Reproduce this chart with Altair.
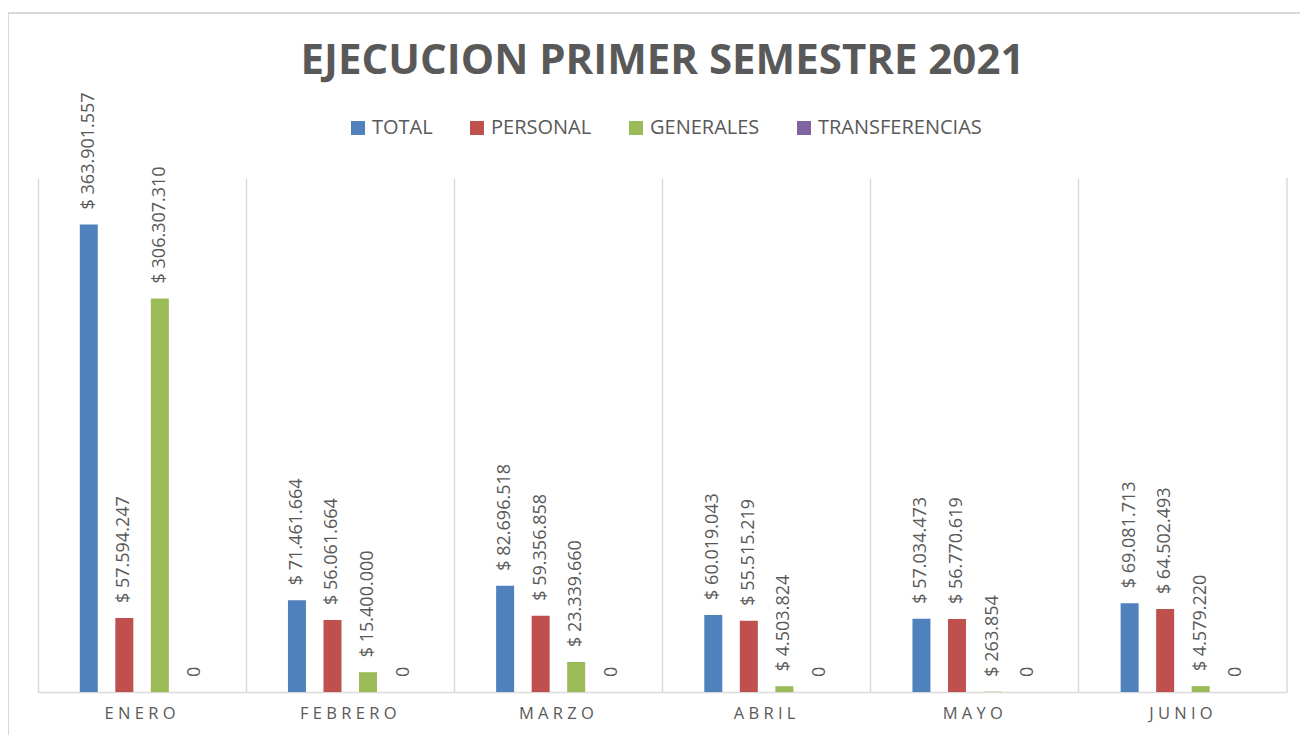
import altair as alt
import pandas as pd

months = ["ENERO", "FEBRERO", "MARZO", "ABRIL", "MAYO", "JUNIO"]
series = ["TOTAL", "PERSONAL", "GENERALES", "TRANSFERENCIAS"]
colors = ["#4F81BD", "#C0504D", "#9BBB59", "#8064A2"]
title_text = ["EJECUCION PRIMER SEMESTRE 2021"]

total = [363901557, 71461664, 82696518, 60019043, 57034473, 69081713]
personal = [57594247, 56061664, 59356858, 55515219, 56770619, 64502493]
generales = [306307310, 15400000, 23339660, 4503824, 263854, 4579220]
transferencias = [0, 0, 0, 0, 0, 0]


def fmt(v):
    if v == 0:
        return "0"
    return "$ " + f"{v:,}".replace(",", ".")


rows = []
for s, vals in zip(series, [total, personal, generales, transferencias]):
    for m, v in zip(months, vals):
        rows.append({"mes": m, "serie": s, "valor": v, "etiqueta": fmt(v)})
df = pd.DataFrame(rows)

W, H = 1249, 514
GRAY = "#595959"
LINE = "#D9D9D9"
FONT = "Open Sans"

base = alt.Chart(df).encode(
    x=alt.X(
        "mes:N",
        sort=months,
        scale=alt.Scale(paddingInner=0, paddingOuter=0),
        axis=alt.Axis(
            title=None,
            labelAngle=0,
            labelFont=FONT,
            labelFontSize=16.5,
            labelColor=GRAY,
            labelPadding=13,
            labelOffset=-2,
            labelExpr="join(split(datum.label, ''), ' ')",
            ticks=False,
            domainColor=LINE,
            domainWidth=1.5,
            grid=True,
            gridColor=LINE,
            gridWidth=1.5,
            bandPosition=0,
        ),
    ),
    xOffset=alt.XOffset(
        "serie:N",
        sort=series,
        scale=alt.Scale(paddingInner=0.141, paddingOuter=1),
    ),
    y=alt.Y(
        "valor:Q",
        scale=alt.Scale(domain=[0, 400000000], nice=False),
        axis=None,
    ),
)

bars = base.mark_bar(width=18).encode(
    color=alt.Color(
        "serie:N",
        sort=series,
        scale=alt.Scale(domain=series, range=colors),
        legend=alt.Legend(
            title=None,
            orient="none",
            legendX=310,
            legendY=-60,
            direction="horizontal",
            symbolType="square",
            symbolSize=196,
            symbolStrokeWidth=0,
            labelFont=FONT,
            labelFontSize=20,
            labelColor=GRAY,
            labelOffset=4,
            labelLimit=400,
            columnPadding=34,
            padding=0,
        ),
    )
)

labels = base.mark_text(
    angle=270,
    align="left",
    baseline="middle",
    dx=15,
    font=FONT,
    fontSize=18,
    color=GRAY,
).encode(text="etiqueta:N")

title = alt.Chart(pd.DataFrame({"t": title_text})).mark_text(
    font=FONT,
    fontSize=42,
    fontWeight="bold",
    color=GRAY,
    align="center",
    baseline="alphabetic",
).encode(text="t:N", x=alt.value(W / 2), y=alt.value(-104))

frame_df = pd.DataFrame({"k": [0]})
right_edge = alt.Chart(frame_df).mark_rule(color=LINE, strokeWidth=1.5).encode(
    x=alt.value(W), y=alt.value(0), y2=alt.value(H)
)
outer_top = alt.Chart(frame_df).mark_rule(color=LINE, strokeWidth=2).encode(
    x=alt.value(-30), x2=alt.value(W + 30), y=alt.value(-165)
)
outer_left = alt.Chart(frame_df).mark_rule(color=LINE, strokeWidth=2).encode(
    x=alt.value(-30), y=alt.value(-165), y2=alt.value(H + 60)
)

chart = (
    alt.layer(bars, labels, title, right_edge, outer_top, outer_left)
    .properties(
        width=W,
        height=H,
        autosize=alt.AutoSizeParams(type="none"),
        padding={"left": 30, "top": 170, "right": 13, "bottom": 43},
    )
    .configure_view(stroke=None)
)

chart.save("out.html", embed_options={"renderer": "svg", "actions": False})
